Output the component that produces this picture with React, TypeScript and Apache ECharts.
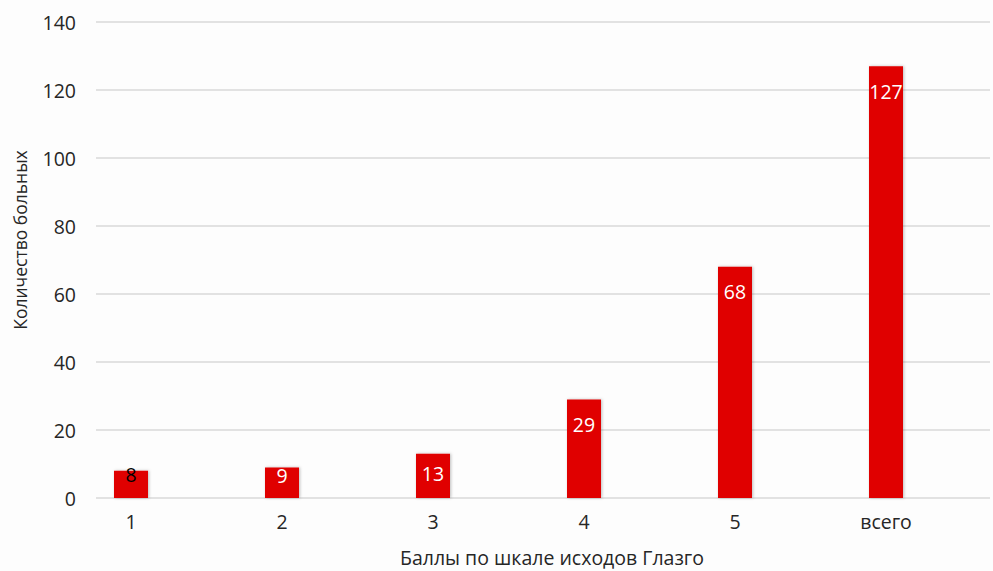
import React, { useEffect, useRef } from "react";
import * as echarts from "echarts";

const categories = ["1", "2", "3", "4", "5", "всего"];
const patients = [8, 9, 13, 29, 68, 127];
const yTicks = { min: 0, max: 140, interval: 20 };
const yAxisTitle = "Количество больных";
const xAxisTitle = "Баллы по шкале исходов Глазго";

export default function App() {
  const ref = useRef<HTMLDivElement>(null);
  useEffect(() => {
    if (!ref.current) return;
    const chart = echarts.init(ref.current, null, { renderer: "svg" });
    const font = "'Open Sans', 'Noto Sans', sans-serif";
    const labelDist = [-6, -2, 10, 15, 15, 15];
    const option = {
      animation: false,
      backgroundColor: "#fdfdfd",
      textStyle: { fontFamily: font },
      grid: [
        { left: 96, right: 3, top: 22, bottom: 73 },
        { left: 55.5, width: 906, top: 22, bottom: 73 },
      ],
      xAxis: [
        { type: "value", gridIndex: 0, show: false, min: 0, max: 1 },
        {
          type: "category",
          gridIndex: 1,
          data: categories,
          axisLine: { show: false },
          axisTick: { show: false },
          axisLabel: { color: "#262626", fontSize: 19.5, fontFamily: font, margin: 13 },
        },
      ],
      yAxis: [
        {
          type: "value",
          gridIndex: 0,
          min: yTicks.min,
          max: yTicks.max,
          interval: yTicks.interval,
          axisLine: { show: false },
          axisTick: { show: false },
          axisLabel: { color: "#262626", fontSize: 19.5, fontFamily: font, margin: 20 },
          splitLine: { lineStyle: { color: "#d9d9d9", width: 1.5 } },
        },
        {
          type: "value",
          gridIndex: 1,
          min: yTicks.min,
          max: yTicks.max,
          show: false,
          splitLine: { show: false },
        },
      ],
      series: [
        {
          type: "bar",
          xAxisIndex: 1,
          yAxisIndex: 1,
          barWidth: 34,
          itemStyle: {
            color: "#e00000",
            shadowColor: "rgba(0,0,0,0.25)",
            shadowBlur: 3,
            shadowOffsetX: 1,
            shadowOffsetY: 0,
          },
          data: patients.map((v, i) => ({
            value: v,
            label: {
              show: true,
              position: "insideTop",
              distance: labelDist[i],
              color: i === 0 ? "#000000" : "#ffffff",
              fontSize: 19.5,
              fontFamily: font,
            },
          })),
        },
      ],
      graphic: [
        {
          type: "text",
          x: 20,
          y: 240,
          rotation: Math.PI / 2,
          style: {
            text: yAxisTitle,
            fill: "#262626",
            fontSize: 17.5,
            fontFamily: font,
            align: "center",
            verticalAlign: "middle",
          },
        },
        {
          type: "text",
          x: 552,
          y: 557,
          style: {
            text: xAxisTitle,
            fill: "#262626",
            fontSize: 19.5,
            lineHeight: 20,
            fontFamily: font,
            align: "center",
            verticalAlign: "middle",
          },
        },
      ],
    };
    chart.setOption(option as any);
    return () => chart.dispose();
  }, []);
  return (
    <div
      ref={ref}
      style={{ position: "fixed", left: 0, top: 0, width: 993, height: 571 }}
    />
  );
}
